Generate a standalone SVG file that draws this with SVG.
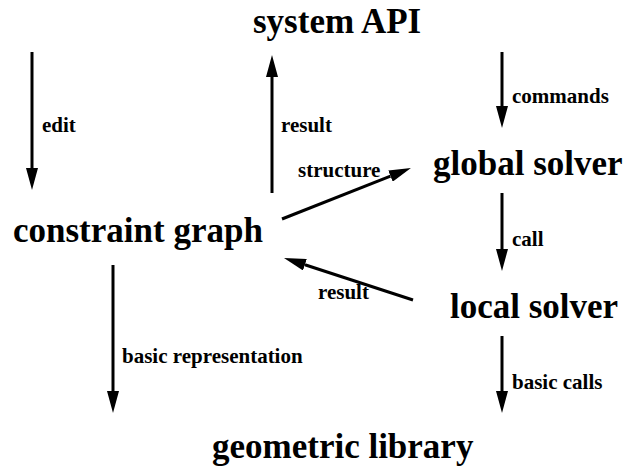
<svg xmlns="http://www.w3.org/2000/svg" width="626" height="472" viewBox="0 0 626 472">
<style>
.node{font-family:'Liberation Serif','DejaVu Serif',serif;font-weight:700;font-size:35px;fill:#000}
.lbl{font-family:'Liberation Serif','DejaVu Serif',serif;font-weight:700;font-size:21px;fill:#000}
.edge{stroke:#000;stroke-width:3;fill:none;marker-end:url(#ah)}
</style>
<defs>
<marker id="ah" markerUnits="userSpaceOnUse" markerWidth="22" markerHeight="12" viewBox="0 0 22 12" refX="0" refY="6" orient="auto">
<path d="M0,0 L22,6 L0,12 z" fill="#000"/>
</marker>
</defs>
<rect width="626" height="472" fill="#fff"/>
<g id="system-api"><text class="node" x="253" y="33">system API</text></g>
<g id="global-solver"><text class="node" x="433" y="175">global solver</text></g>
<g id="constraint-graph"><text class="node" x="13" y="242">constraint graph</text></g>
<g id="local-solver"><text class="node" x="450" y="318">local solver</text></g>
<g id="geometric-library"><text class="node" x="212" y="458">geometric library</text></g>
<g id="connectors">
<line class="edge" x1="32" y1="52" x2="32" y2="168"/>
<line class="edge" x1="272" y1="193" x2="272" y2="77"/>
<line class="edge" x1="502" y1="52" x2="502" y2="106"/>
<line class="edge" x1="502" y1="193" x2="502" y2="249"/>
<line class="edge" x1="502" y1="336" x2="502" y2="391"/>
<line class="edge" x1="113" y1="265" x2="113" y2="391"/>
<line class="edge" x1="282" y1="219" x2="390.5" y2="176.1"/>
<line class="edge" x1="413" y1="300" x2="304.9" y2="264.8"/>
<text class="lbl" x="42" y="132">edit</text>
<text class="lbl" x="281" y="132">result</text>
<text class="lbl" x="512" y="103">commands</text>
<text class="lbl" x="298" y="177">structure</text>
<text class="lbl" x="512" y="246">call</text>
<text class="lbl" x="318" y="299">result</text>
<text class="lbl" x="122" y="363">basic representation</text>
<text class="lbl" x="512" y="389">basic calls</text>
</g>
</svg>
